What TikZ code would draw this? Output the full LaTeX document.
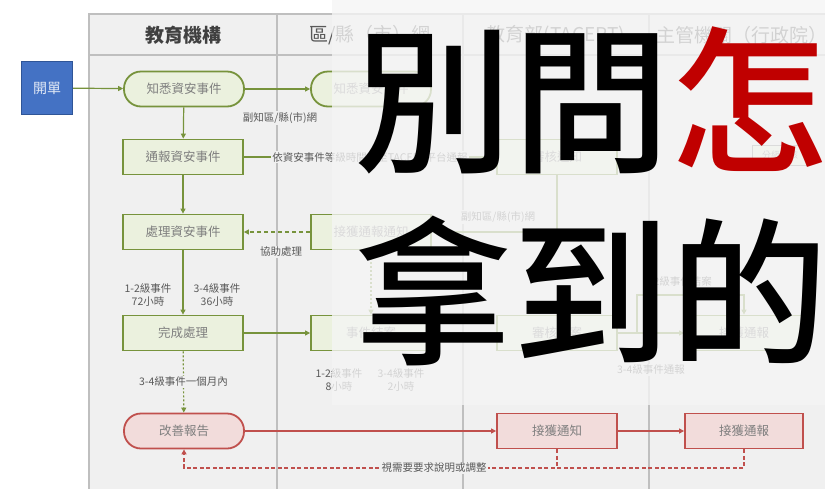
\documentclass[tikz,border=0pt]{standalone}
\usepackage{fontspec}
\setmainfont{Noto Sans CJK TC}
\newfontfamily\grosfont{Noto Sans CJK TC Medium}
\usetikzlibrary{arrows.meta}
\definecolor{vert}{HTML}{77933C}
\definecolor{vertclair}{HTML}{EBF1DE}
\definecolor{rougebord}{HTML}{C0504D}
\definecolor{rougeclair}{HTML}{F2DCDB}
\definecolor{bleu}{HTML}{4472C4}
\definecolor{bleufonce}{HTML}{2F5597}
\definecolor{fond}{HTML}{F0F0F0}
\definecolor{cadre}{HTML}{BFBFBF}
\definecolor{gristexte}{HTML}{7F7F7F}
\definecolor{grisetiq}{HTML}{595959}
\definecolor{grandrouge}{HTML}{C00000}
\begin{document}
\begin{tikzpicture}[x=1pt,y=-1pt]
\tikzset{vboite/.style={draw=vert, fill=vertclair, line width=1.8pt, minimum width=120pt, minimum height=35pt, text=gristexte, font=\fontsize{12.5}{13}\selectfont},
vcapsule/.style={vboite, rounded corners=17pt},
rboite/.style={vboite, draw=rougebord, fill=rougeclair},
rcapsule/.style={rboite, rounded corners=17pt},
entete/.style={font=\fontsize{19}{20}\selectfont, text=grisetiq},
etiq/.style={font=\fontsize{10.5}{13}\selectfont, text=grisetiq, align=center, fill=fond, inner sep=1.5pt},
vfleche/.style={draw=vert, line width=1.2pt, -{Triangle[length=5pt,width=5pt]}},
rfleche/.style={vfleche, draw=rougebord},
gros/.style={font=\fontsize{158}{190}\selectfont\grosfont, inner sep=0pt}}
\useasboundingbox (0,0) rectangle (825,488);
\clip (0,0) rectangle (825,488);
\fill[white] (0,0) rectangle (825,488);
\filldraw[fill=fond, draw=cadre, line width=1.5pt] (89,14) rectangle (840,495);
\draw[cadre, line width=1.5pt] (89,55) -- (840,55);
\foreach \x in {277,463,649} \draw[cadre, line width=1.5pt] (\x,14) -- (\x,495);
\node[entete, text=black!75, font=\fontsize{19}{20}\selectfont\bfseries] (H1) at (183,35) {教育機構};
\node[entete] (H2) at (370,35) {區/縣（市）網};
\node[entete] (H3) at (556,35) {教育部(TACERT)};
\node[entete] (H4) at (742,35) {主管機關（行政院）};
\node[draw=bleufonce, fill=bleu, line width=1.2pt, minimum width=51pt, minimum height=53pt, text=white!85!bleu, font=\fontsize{14}{14}\selectfont] (N0) at (47,88) {開單};
\node[vcapsule] (N1) at (184,89) {知悉資安事件};
\node[vcapsule] (N2) at (371,89) {知悉資安事件};
\node[vboite] (N3) at (183,157) {通報資安事件};
\node[vboite] (N4) at (183,232) {處理資安事件};
\node[vboite] (N5) at (183,333) {完成處理};
\node[rcapsule] (N6) at (184,431) {改善報告};
\node[vboite] (N7) at (371,232) {接獲通報通知};
\node[vboite] (N8) at (371,333) {事件結案};
\node[vboite] (N9) at (557,157) {審核通知};
\node[vboite] (N10) at (557,333) {審核結案};
\node[vboite, minimum width=118pt] (N11) at (744,333) {接獲通報};
\node[draw=gristexte, fill=vertclair, line width=1pt, minimum width=55pt, minimum height=20pt, text=gristexte, font=\fontsize{9}{9}\selectfont] (N12) at (780,155) {分級審核};
\node[rboite] (N13) at (557,431) {接獲通知};
\node[rboite, minimum width=118pt] (N14) at (744,431) {接獲通報};
\draw[vfleche] (N0) -- (N1);
\draw[vfleche] (N1) -- (N2);
\node[etiq] (L1) at (280,118) {副知區/縣(市)網};
\draw[vfleche] (N1) -- (N3);
\draw[vfleche] (N3) -- (N9) node[etiq, midway] (L2) {依資安事件等級時間內至TACERT平台通報};
\draw[vfleche] (N3) -- (N4);
\draw[vfleche] (N9) |- (N7);
\node[etiq] (L3) at (498,217) {副知區/縣(市)網};
\draw[vfleche, dash pattern=on 4pt off 3pt] (N7) -- (N4);
\node[etiq] (L4) at (281,252) {協助處理};
\draw[vfleche, dash pattern=on 2pt off 2pt] (N7) -- (N8);
\draw[vfleche] (N4) -- (N5);
\node[etiq] (L5) at (148,295) {1-2級事件\\72小時};
\node[etiq] (L6) at (217,295) {3-4級事件\\36小時};
\draw[vfleche] (N5) -- (N8);
\node[etiq] (L7) at (339,380) {1-2級事件\\8小時};
\node[etiq] (L8) at (401,380) {3-4級事件\\2小時};
\draw[vfleche] (N10) -- (N11);
\node[etiq] (L9) at (651,370) {3-4級事件通報};
\coordinate (B1) at (637,333);
\draw[vfleche] (B1) -- ++(0,-38) -| (N11);
\node[etiq] (L10) at (678,282) {1-2級事件結案};
\draw[vfleche, dash pattern=on 2pt off 2pt] (N5) -- (N6) node[etiq, midway] (L11) {3-4級事件一個月內};
\draw[rfleche] (N6) -- (N13);
\draw[rfleche] (N13) -- (N14);
\coordinate (R1) at (184,468);
\draw[draw=rougebord, line width=1.2pt, dash pattern=on 4pt off 2.5pt] (N13) -- (N13 |- R1);
\draw[rfleche, dash pattern=on 4pt off 2.5pt] (N14) |- (R1) -- (N6);
\node[etiq] (L12) at (434,468) {視需要要求說明或調整};
\fill[fill=white!96!black, fill opacity=0.78] (332,0) rectangle (825,405);
\node[gros] (T1) at (591,100) {別問\textcolor{grandrouge}{怎}};
\node[gros] (T2) at (591,291) {拿到的};
\end{tikzpicture}
\end{document}
